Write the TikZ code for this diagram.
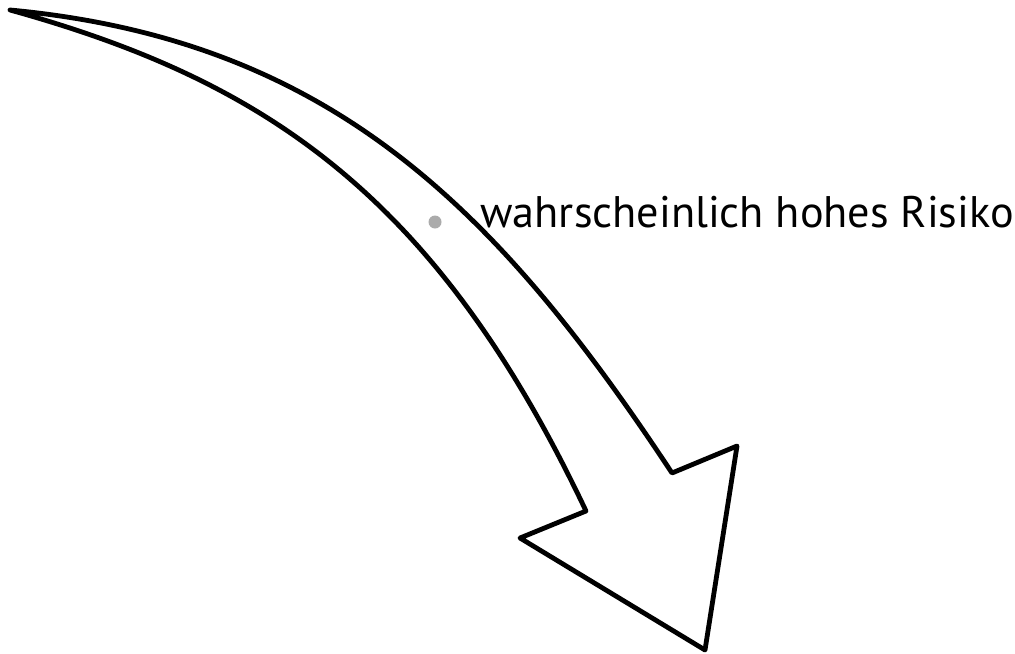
\documentclass[tikz,border=0pt]{standalone}
\usepackage{fontspec}
\setmainfont{PT Sans}
\usetikzlibrary{calc}

\begin{document}
\begin{tikzpicture}[x=0.5pt, y=-0.5pt, line join=round]
  \useasboundingbox (0,0) rectangle (1015,653);
  % curved arrow, outer edge then head then inner edge
  \draw[line width=2.4pt]
    (10,10) .. controls (330,40) and (497,208) .. (672,473)
    -- (737,446) -- (705,650) -- (520,538) -- (586,511)
    .. controls (435,192) and (262,80) .. cycle;
  \node[circle, fill=black!33, inner sep=0pt, minimum size=6.5pt] (pt) at (435,222) {};
  \node[anchor=base west, inner sep=0pt, font=\fontsize{22.1}{26}\selectfont] (risk) at (480,227) {wahrscheinlich hohes Risiko};
\end{tikzpicture}
\end{document}
